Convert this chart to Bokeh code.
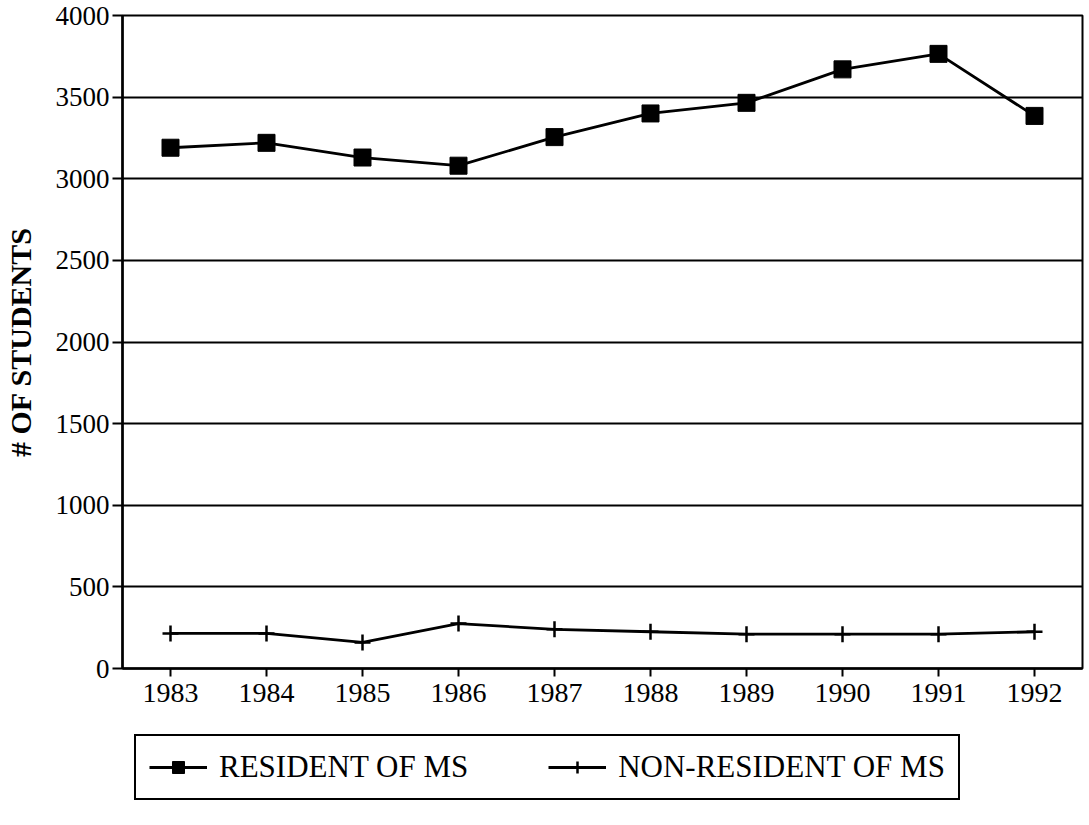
from bokeh.plotting import figure
from bokeh.models import Legend, LegendItem, FactorRange, Range1d, FixedTicker
from bokeh.layouts import column
from bokeh.embed import file_html
from bokeh.resources import INLINE

years = ["1983", "1984", "1985", "1986", "1987", "1988", "1989", "1990", "1991", "1992"]
resident = [3190, 3220, 3130, 3080, 3255, 3400, 3465, 3670, 3765, 3385]
non_resident = [215, 215, 160, 275, 240, 225, 210, 210, 210, 225]
y_ticks = [0, 500, 1000, 1500, 2000, 2500, 3000, 3500, 4000]
series_labels = ["RESIDENT OF MS", "NON-RESIDENT OF MS"]

FONT = "Liberation Serif"

p = figure(
    x_range=FactorRange(*years, range_padding=0),
    y_range=Range1d(0, 4000),
    frame_width=960, frame_height=653,
    min_border_left=118, min_border_top=15, min_border_right=3, min_border_bottom=60,
    output_backend="svg", toolbar_location=None,
)
p.background_fill_color = "white"
p.border_fill_color = "white"
p.outline_line_color = "black"
p.outline_line_width = 2

# grid
p.xgrid.grid_line_color = None
p.ygrid.ticker = FixedTicker(ticks=y_ticks)
p.ygrid.grid_line_color = "black"
p.ygrid.grid_line_width = 2
p.ygrid.grid_line_alpha = 1.0

# axes
p.yaxis.ticker = FixedTicker(ticks=y_ticks)
for ax in (p.xaxis[0], p.yaxis[0]):
    ax.axis_line_color = "black"
    ax.axis_line_width = 2.5
    ax.major_tick_line_color = "black"
    ax.major_tick_line_width = 2
    ax.major_tick_in = 0
    ax.minor_tick_line_color = None
    ax.major_label_text_font = FONT
    ax.major_label_text_color = "black"

p.yaxis.major_label_text_font_size = "27px"
p.xaxis.major_label_text_font_size = "28px"
p.yaxis.major_tick_out = 10
p.yaxis.major_label_standoff = 3
p.xaxis.major_tick_out = 8
p.xaxis.major_label_standoff = 7

p.yaxis.axis_label = "# OF STUDENTS"
p.yaxis.axis_label_text_font = FONT
p.yaxis.axis_label_text_font_style = "bold"
p.yaxis.axis_label_text_font_size = "30px"
p.yaxis.axis_label_text_color = "black"
p.yaxis.axis_label_standoff = 16

# series
p.line(years, resident, line_color="black", line_width=2.8)
p.scatter(years, resident, marker="square", size=17, fill_color="black", line_color="black")
p.line(years, non_resident, line_color="black", line_width=2.8)
p.scatter(years, non_resident, marker="cross", size=16, line_color="black", line_width=2.5)

# legend strip (separate figure below the chart; its series lie outside its own y-range)
lg = figure(
    width=1081, height=80,
    x_range=p.x_range, y_range=Range1d(-2, -1),
    x_axis_location=None, y_axis_location=None,
    min_border=0, output_backend="svg", toolbar_location=None,
)
lg.outline_line_color = None
lg.grid.grid_line_color = None
l1 = lg.line(years, resident, line_color="black", line_width=2.8)
s1 = lg.scatter(years, resident, marker="square", size=13, fill_color="black", line_color="black")
l2 = lg.line(years, non_resident, line_color="black", line_width=2.8)
s2 = lg.scatter(years, non_resident, marker="cross", size=16, line_color="black", line_width=2.5)

legend = Legend(
    items=[
        LegendItem(label=series_labels[0], renderers=[l1, s1]),
        LegendItem(label=series_labels[1], renderers=[l2, s2]),
    ],
    orientation="horizontal",
    location=(12, 8),
    label_text_font=FONT,
    label_text_font_size="31px",
    label_text_color="black",
    label_height=30,
    glyph_width=58,
    glyph_height=30,
    label_standoff=12,
    spacing=80,
    padding=13,
    margin=0,
    border_line_color="black",
    border_line_alpha=1.0,
    border_line_width=2,
    background_fill_color="white",
    background_fill_alpha=1.0,
)
lg.add_layout(legend, "center")

layout = column(p, lg, spacing=0)
open("out.html", "w").write(file_html(layout, INLINE))
